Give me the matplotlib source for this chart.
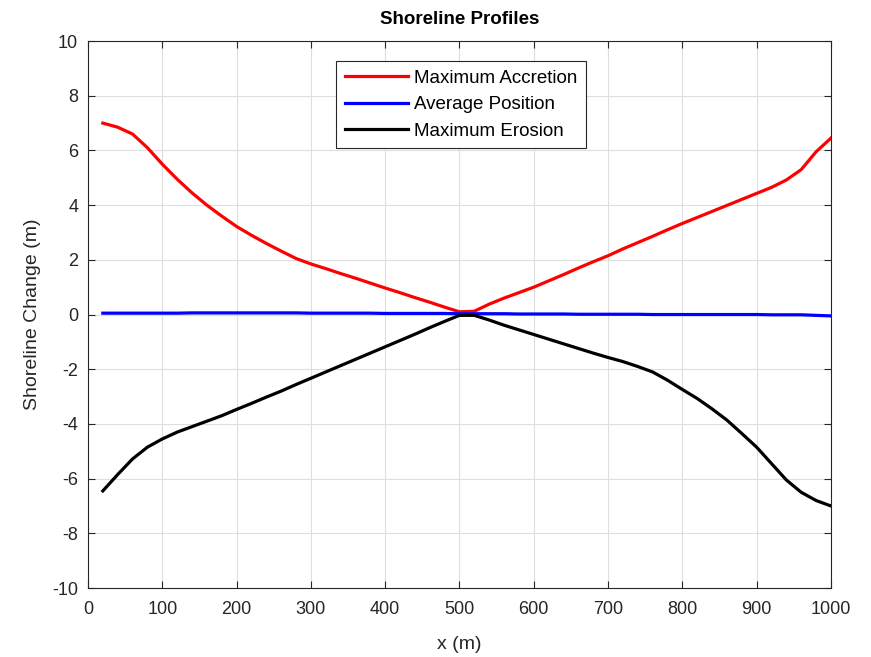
import matplotlib
matplotlib.use("Agg")
import matplotlib.pyplot as plt

x = list(range(20, 1001, 20))

accretion = [7.0, 6.85, 6.6, 6.1, 5.5, 4.95, 4.45, 4.0, 3.6, 3.22,
             2.9, 2.6, 2.32, 2.05, 1.85, 1.68, 1.5, 1.33, 1.15, 0.97,
             0.8, 0.62, 0.45, 0.27, 0.1, 0.12, 0.38, 0.6, 0.8, 1.0,
             1.23, 1.46, 1.7, 1.93, 2.15, 2.4, 2.63, 2.86, 3.1, 3.33,
             3.55, 3.77, 3.99, 4.21, 4.43, 4.65, 4.92, 5.3, 5.95, 6.45]

average = [0.05, 0.05, 0.05, 0.05, 0.05, 0.05, 0.06, 0.06, 0.06, 0.06,
           0.06, 0.06, 0.06, 0.06, 0.05, 0.05, 0.05, 0.05, 0.05, 0.04,
           0.04, 0.04, 0.04, 0.04, 0.03, 0.03, 0.03, 0.03, 0.02, 0.02,
           0.02, 0.02, 0.01, 0.01, 0.01, 0.01, 0.01, 0.0, 0.0, 0.0,
           0.0, 0.0, 0.0, 0.0, 0.0, -0.01, -0.01, -0.01, -0.03, -0.05]

erosion = [-6.45, -5.85, -5.28, -4.85, -4.55, -4.3, -4.1, -3.9, -3.7, -3.47,
           -3.25, -3.02, -2.8, -2.56, -2.33, -2.1, -1.87, -1.64, -1.41, -1.18,
           -0.95, -0.72, -0.48, -0.25, -0.03, -0.03, -0.2, -0.39, -0.56, -0.73,
           -0.9, -1.07, -1.24, -1.41, -1.57, -1.72, -1.9, -2.1, -2.4, -2.74,
           -3.07, -3.45, -3.86, -4.35, -4.85, -5.45, -6.05, -6.5, -6.8, -7.0]

plt.rcParams['font.family'] = ['Liberation Sans', 'DejaVu Sans']
plt.rcParams['axes.unicode_minus'] = False

fig = plt.figure(figsize=(8.71, 6.57), dpi=100)
ax = fig.add_axes([0.101, 0.105, 0.853, 0.8325])

ax.plot(x, accretion, color='#ff0000', lw=2.3, label='Maximum Accretion')
ax.plot(x, average, color='#0000ff', lw=2.3, label='Average Position')
ax.plot(x, erosion, color='#000000', lw=2.3, label='Maximum Erosion')

ax.set_xlim(0, 1000)
ax.set_ylim(-10, 10)
ax.set_xticks(range(0, 1001, 100))
ax.set_yticks(range(-10, 11, 2))
ax.grid(True, color='#dedede', lw=0.8)
ax.set_axisbelow(True)
ax.tick_params(direction='in', top=True, right=True, labelsize=13,
               colors='#262626', length=5, width=0.8)
ax.tick_params(axis='x', pad=9)
ax.tick_params(axis='y', pad=7)
for s in ax.spines.values():
    s.set_color('#262626')
    s.set_linewidth(0.8)

ax.set_xlabel('x (m)', fontsize=14, color='#262626', labelpad=13)
ax.set_ylabel('Shoreline Change (m)', fontsize=14, color='#262626', labelpad=8)
ax.set_title('Shoreline Profiles', fontsize=13.5, fontweight='bold', color='black', pad=12)

leg = ax.legend(loc='upper center', bbox_to_anchor=(0.502, 0.963), fontsize=13.5,
                handlelength=3.4, frameon=True, fancybox=False, borderpad=0.45,
                labelspacing=0.5, handletextpad=0.3, borderaxespad=0)
leg.get_frame().set_edgecolor('#262626')
leg.get_frame().set_linewidth(0.8)
leg.get_frame().set_alpha(1)

fig.savefig('out.png', dpi=100)
